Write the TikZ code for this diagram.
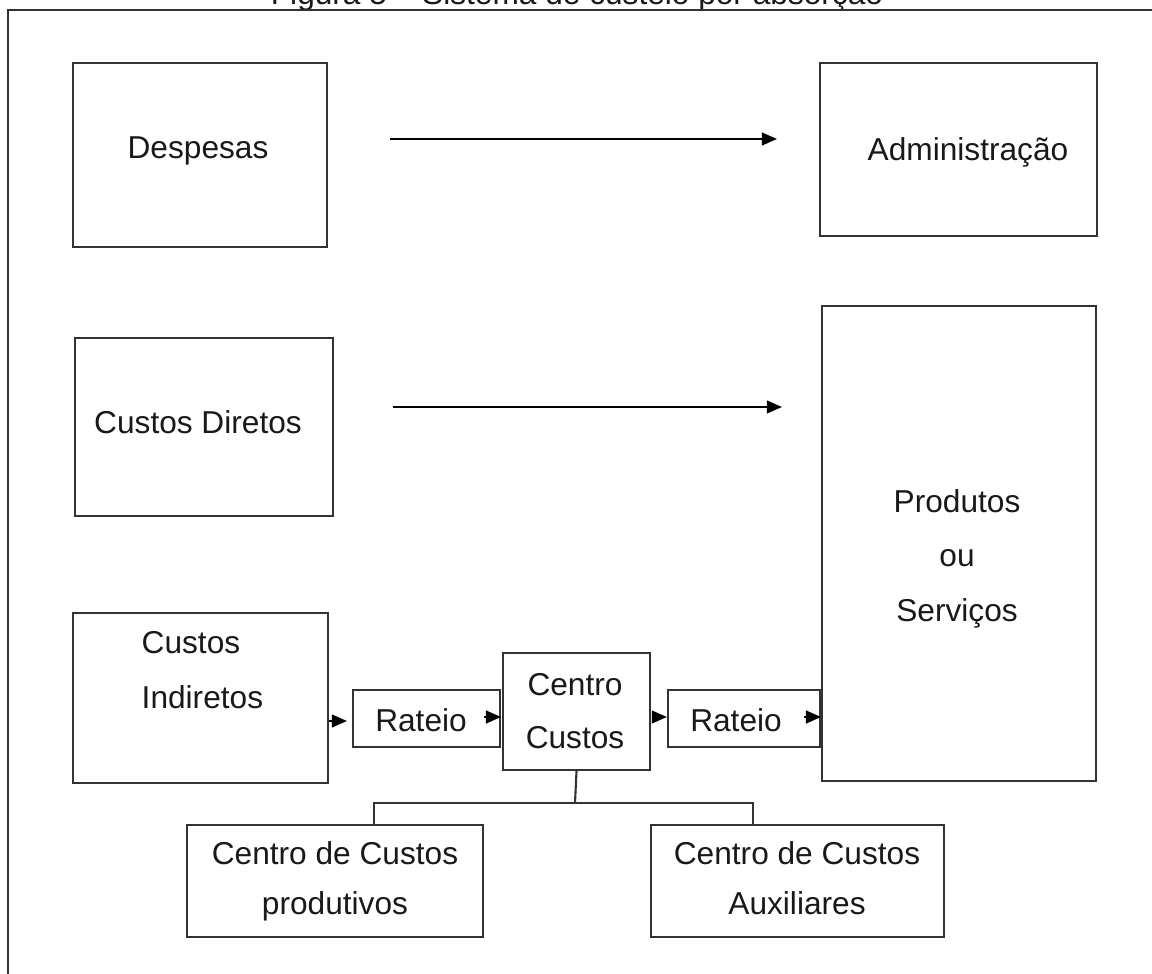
\documentclass[tikz,border=0pt]{standalone}
\usepackage{fontspec}
\setmainfont{Liberation Sans}
\usetikzlibrary{arrows.meta}
\begin{document}
\begin{tikzpicture}[x=0.01cm,y=-0.01cm,
  box/.style={draw=black!80, line width=0.6pt, rectangle, inner sep=0pt},
  lbl/.style={anchor=base, inner sep=0pt, font=\fontsize{9}{11}\selectfont, text=black!90},
  frameline/.style={draw=black!80, line width=0.7pt},
  arr/.style={draw=black, line width=0.6pt, -{Triangle[length=4.3pt,width=3.6pt]}},
  link/.style={draw=black!80, line width=0.6pt},
]
\useasboundingbox (0,0) rectangle (1152,973);
\clip (0,0) rectangle (1152,973);

% title (cut off by the top of the picture)
\node[lbl] (title) at (577,5) {Figura 5 – Sistema de custeio por absorção};
% outer frame
\coordinate (fTL) at (8,10);
\coordinate (fTR) at (1160,10);
\coordinate (fBL) at (8,980);
\draw[frameline] (fBL) -- (fTL) -- (fTR);

% boxes
\node[box, minimum width=2.54cm, minimum height=1.84cm] (desp) at (200,155) {};
\node[box, minimum width=2.77cm, minimum height=1.73cm] (adm) at (958.5,149.5) {};
\node[box, minimum width=2.58cm, minimum height=1.78cm] (cdir) at (204,427) {};
\node[box, minimum width=2.74cm, minimum height=4.75cm] (prod) at (959,543.5) {};
\node[box, minimum width=2.55cm, minimum height=1.70cm] (cind) at (200.5,698) {};
\node[box, minimum width=1.47cm, minimum height=0.57cm] (rat1) at (426.5,718.5) {};
\node[box, minimum width=1.47cm, minimum height=1.17cm] (centro) at (576.5,711.5) {};
\node[box, minimum width=1.52cm, minimum height=0.57cm] (rat2) at (744,718.5) {};
\node[box, minimum width=2.96cm, minimum height=1.12cm] (ccp) at (335,881) {};
\node[box, minimum width=2.93cm, minimum height=1.12cm] (cca) at (797.5,881) {};

% texts
\node[lbl] (tdesp) at (198,159) {Despesas};
\node[lbl, anchor=base west] (tadm) at (867,160) {Administração};
\node[lbl] (tcdir) at (198,433) {Custos Diretos};
\node[lbl] (tprod1) at (957,512) {Produtos};
\node[lbl] (tprod2) at (957,566) {ou};
\node[lbl] (tprod3) at (957,621) {Serviços};
\node[lbl, anchor=base west] (tcind1) at (141,653) {Custos};
\node[lbl, anchor=base west] (tcind2) at (141,708) {Indiretos};
\node[lbl] (trat1) at (421,731) {Rateio};
\node[lbl] (tcen1) at (575,695) {Centro};
\node[lbl] (tcen2) at (575,748) {Custos};
\node[lbl] (trat2) at (736,731) {Rateio};
\node[lbl] (tccp1) at (335,864) {Centro de Custos};
\node[lbl] (tccp2) at (335,914) {produtivos};
\node[lbl] (tcca1) at (797,864) {Centro de Custos};
\node[lbl] (tcca2) at (797,914) {Auxiliares};

% long arrows
\coordinate (a1s) at (390,139);
\coordinate (a1e) at (777,139);
\coordinate (a2s) at (393,407);
\coordinate (a2e) at (782,407);
\draw[arr] (a1s) -- (a1e);
\draw[arr] (a2s) -- (a2e);

% small arrows along the bottom chain
\coordinate (s1e) at (347,721);
\draw[arr] (cind.east |- s1e) -- (s1e);
\coordinate (s2s) at (484,717);
\draw[arr] (s2s) -- (rat1.east |- s2s);
\coordinate (s3s) at (654,717);
\draw[arr] (s3s) -- (rat2.west |- s3s);
\coordinate (s4s) at (804,717);
\draw[arr] (s4s) -- (rat2.east |- s4s);

% tree below Centro Custos
\coordinate (tj) at (575,803);
\coordinate (tl) at (374,803);
\coordinate (tr) at (753,803);
\draw[link] (centro.south) -- (tj);
\draw[link] (ccp.north -| tl) -- (tl) -- (tr) -- (cca.north -| tr);
\end{tikzpicture}
\end{document}
